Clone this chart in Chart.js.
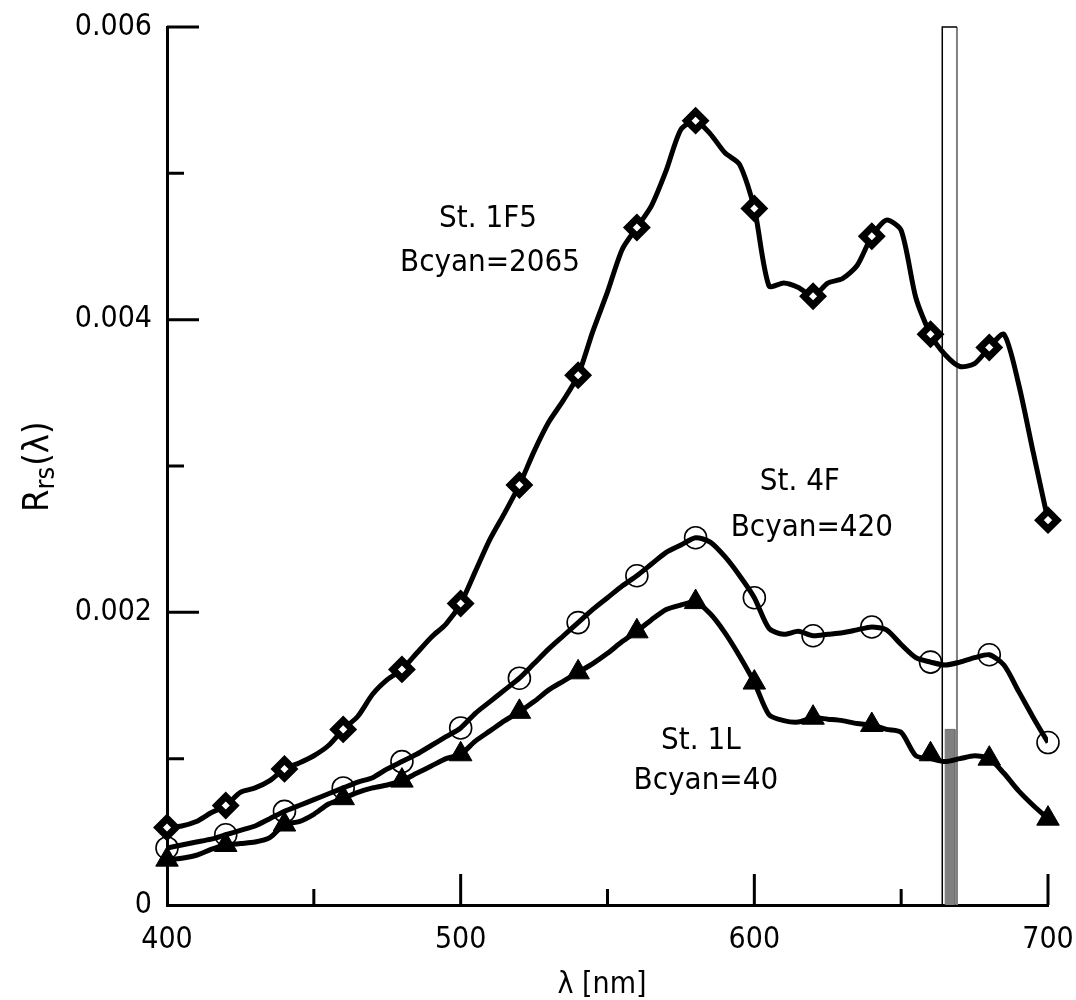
<!DOCTYPE html>
<html>
<head>
<meta charset="utf-8">
<title>Rrs spectra</title>
<script src="https://cdn.jsdelivr.net/npm/chart.js@4.4.1/dist/chart.umd.min.js"></script>
<style>
	html, body { margin: 0; padding: 0; background: #fff; }
	#chart { display: block; }
</style>
</head>
<body>
<canvas id="chart" width="1076" height="1000"></canvas>
<script>
// Spectra sampled every 5 nm, markers every 20 nm
const wavelengths = [400,405,410,415,420,425,430,435,440,445,450,455,460,465,470,475,480,485,490,495,500,505,510,515,520,525,530,535,540,545,550,555,560,565,570,575,580,585,590,595,600,605,610,615,620,625,630,635,640,645,650,655,660,665,670,675,680,685,690,695,700];

const st1F5 = [0.00053,0.00054,0.00057,0.00063,0.00068,0.00077,0.00080,0.00085,0.00093,0.00097,0.00102,0.00109,0.00120,0.00129,0.00144,0.00154,0.00161,0.00172,0.00183,0.00192,0.00206,0.00228,0.00250,0.00268,0.00287,0.00310,0.00330,0.00345,0.00362,0.00392,0.00419,0.00448,0.00463,0.00478,0.00502,0.00530,0.00536,0.00527,0.00514,0.00506,0.00476,0.00423,0.00425,0.00422,0.00416,0.00425,0.00428,0.00437,0.00457,0.00468,0.00461,0.00415,0.00390,0.00376,0.00368,0.00370,0.00381,0.00390,0.00356,0.00309,0.00263];

const st4F = [0.00039,0.00041,0.00043,0.00045,0.00048,0.00051,0.00054,0.00059,0.00064,0.00068,0.00072,0.00076,0.00080,0.00084,0.00087,0.00093,0.00098,0.00103,0.00109,0.00115,0.00121,0.00131,0.00139,0.00147,0.00155,0.00165,0.00175,0.00184,0.00193,0.00202,0.00210,0.00218,0.00225,0.00233,0.00241,0.00246,0.00251,0.00248,0.00238,0.00225,0.00210,0.00189,0.00185,0.00187,0.00184,0.00185,0.00186,0.00188,0.00190,0.00188,0.00178,0.00169,0.00166,0.00164,0.00166,0.00169,0.00171,0.00164,0.00146,0.00128,0.00111];

const st1L = [0.00031,0.00032,0.00034,0.00038,0.00041,0.00042,0.00043,0.00046,0.00055,0.00057,0.00062,0.00069,0.00073,0.00077,0.00080,0.00082,0.00085,0.00090,0.00095,0.00100,0.00103,0.00112,0.00119,0.00126,0.00132,0.00139,0.00147,0.00153,0.00159,0.00165,0.00172,0.00180,0.00187,0.00195,0.00202,0.00205,0.00207,0.00199,0.00186,0.00170,0.00152,0.00130,0.00126,0.00125,0.00128,0.00127,0.00126,0.00124,0.00123,0.00120,0.00118,0.00102,0.00100,0.00098,0.00100,0.00102,0.00100,0.00090,0.00078,0.00068,0.00059];

const markerNm = [400,420,440,460,480,500,520,540,560,580,600,620,640,660,680,700];
const mk1F5 = [0.00053,0.00068,0.00093,0.00120,0.00161,0.00206,0.00287,0.00362,0.00463,0.00536,0.00476,0.00416,0.00457,0.00390,0.00381,0.00263];
const mk4F = [0.00039,0.00048,0.00064,0.00080,0.00098,0.00121,0.00155,0.00193,0.00225,0.00251,0.00210,0.00184,0.00190,0.00166,0.00171,0.00111];
const mk1L = [0.00031,0.00041,0.00055,0.00073,0.00085,0.00103,0.00132,0.00159,0.00187,0.00207,0.00152,0.00128,0.00123,0.00103,0.00100,0.00059];

// Band marked on the plot (open box) and the filled bar inside it
const bandNm = [664, 669];
const barNm = [665, 668.3];
const barValue = 0.0012;

const xTicks = [400, 500, 600, 700];
const xMinor = [450, 550, 650];
const yTicks = [0, 0.002, 0.004, 0.006];
const yTickLabels = ['0', '0.002', '0.004', '0.006'];
const yMinor = [0.001, 0.003, 0.005];

// Station labels placed in data coordinates
const notes = [
	{ text: 'St. 1F5', x: 509.3, y: 0.00469 },
	{ text: 'Bcyan=2065', x: 510, y: 0.00439 },
	{ text: 'St. 4F', x: 615.5, y: 0.00289 },
	{ text: 'Bcyan=420', x: 619.6, y: 0.00258 },
	{ text: 'St. 1L', x: 581.8, y: 0.00112 },
	{ text: 'Bcyan=40', x: 583.5, y: 0.00085 }
];

const FONT = '"DejaVu Sans Condensed", "DejaVu Sans", sans-serif';

function pts(xs, ys) {
	return xs.map((x, i) => ({ x, y: ys[i] }));
}

function lineSet(ys) {
	return {
		type: 'line', data: pts(wavelengths, ys), borderColor: '#000', borderWidth: 5,
		pointRadius: 0, tension: 0.25, fill: false, order: 2
	};
}

function markerSet(ys, style, radius, fillColor, bw) {
	return {
		type: 'line', data: pts(markerNm, ys), showLine: false, pointStyle: style,
		pointRadius: radius, pointBackgroundColor: fillColor, pointBorderColor: '#000',
		pointBorderWidth: bw, clip: false, order: 1
	};
}

const bandLeft = [
	{ x: bandNm[0], y: 0 }, { x: bandNm[0], y: yTicks[3] }, { x: bandNm[1], y: yTicks[3] }
];
const bandRight = [{ x: bandNm[1], y: yTicks[3] }, { x: bandNm[1], y: 0 }];
const bar = [
	{ x: barNm[0], y: 0 }, { x: barNm[0], y: barValue }, { x: barNm[1], y: barValue }, { x: barNm[1], y: 0 }
];

const decorations = {
	id: 'decorations',
	afterDatasetsDraw(chart) {
		const { ctx, scales: { x, y } } = chart;
		const x0 = x.getPixelForValue(400);
		const y0 = y.getPixelForValue(0);
		ctx.save();
		ctx.strokeStyle = '#000';
		ctx.lineWidth = 3;
		ctx.beginPath();
		yTicks.slice(1).forEach(v => { const p = y.getPixelForValue(v); ctx.moveTo(x0, p); ctx.lineTo(x0 + 32, p); });
		yMinor.forEach(v => { const p = y.getPixelForValue(v); ctx.moveTo(x0, p); ctx.lineTo(x0 + 17, p); });
		xTicks.slice(1).forEach(v => { const p = x.getPixelForValue(v); ctx.moveTo(p, y0); ctx.lineTo(p, y0 - 31); });
		xMinor.forEach(v => { const p = x.getPixelForValue(v); ctx.moveTo(p, y0); ctx.lineTo(p, y0 - 16); });
		ctx.stroke();

		ctx.fillStyle = '#000';
		ctx.font = '31px ' + FONT;
		ctx.textAlign = 'center';
		ctx.textBaseline = 'middle';
		notes.forEach(n => ctx.fillText(n.text, x.getPixelForValue(n.x), y.getPixelForValue(n.y)));

		// axis titles
		ctx.font = '30px ' + FONT;
		ctx.fillText('λ [nm]', 602, 985);

		ctx.translate(48, 512);
		ctx.rotate(-Math.PI / 2);
		ctx.textAlign = 'left';
		ctx.textBaseline = 'alphabetic';
		ctx.font = '36px ' + FONT;
		ctx.fillText('R', 0, 0);
		const rw = ctx.measureText('R').width;
		ctx.font = '27px ' + FONT;
		ctx.fillText('rs', rw, 6);
		const sw = ctx.measureText('rs').width;
		ctx.font = '36px ' + FONT;
		ctx.fillText('(λ)', rw + sw + 1, 0);
		ctx.restore();
	}
};

new Chart(document.getElementById('chart'), {
	type: 'line',
	data: {
		datasets: [
			markerSet(mk1F5, 'rectRot', 9, '#fff', 7),
			markerSet(mk4F, 'circle', 11, 'rgba(0,0,0,0)', 1.6),
			markerSet(mk1L, 'triangle', 13, '#000', 1),
			lineSet(st1F5),
			lineSet(st4F),
			lineSet(st1L),
			{ type: 'line', data: bar, borderColor: '#6e6e6e', borderWidth: 1, backgroundColor: '#808080', fill: 'origin', pointRadius: 0, tension: 0, order: 3 },
			{ type: 'line', data: bandLeft, borderColor: '#000', borderWidth: 1.5, pointRadius: 0, tension: 0, fill: false, clip: false, order: 3 },
			{ type: 'line', data: bandRight, borderColor: '#808080', borderWidth: 2, pointRadius: 0, tension: 0, fill: false, clip: false, order: 3 }
		]
	},
	options: {
		responsive: false,
		animation: false,
		devicePixelRatio: 1,
		layout: { padding: { top: 27, right: 28, left: 0, bottom: 0 } },
		plugins: { legend: { display: false }, tooltip: { enabled: false } },
		scales: {
			x: {
				type: 'linear', min: 400, max: 700,
				afterFit(s) { s.height = 95; s.paddingLeft = 0; s.paddingRight = 0; },
				afterBuildTicks(s) { s.ticks = xTicks.map(v => ({ value: v })); },
				grid: { display: false, drawTicks: false },
				border: { display: true, color: '#000', width: 3 },
				ticks: { color: '#000', padding: 17, font: { family: FONT, size: 30 }, maxRotation: 0 }
			},
			y: {
				type: 'linear', min: 0, max: 0.006,
				afterFit(s) { s.width = 167; s.paddingTop = 0; s.paddingBottom = 0; },
				afterBuildTicks(s) { s.ticks = yTicks.map(v => ({ value: v })); },
				grid: { display: false, drawTicks: false },
				border: { display: true, color: '#000', width: 3 },
				ticks: {
					color: '#000', padding: 15, font: { family: FONT, size: 30 },
					callback: (v) => yTickLabels[yTicks.indexOf(v)] ?? ''
				}
			}
		}
	},
	plugins: [decorations]
});
</script>
</body>
</html>
